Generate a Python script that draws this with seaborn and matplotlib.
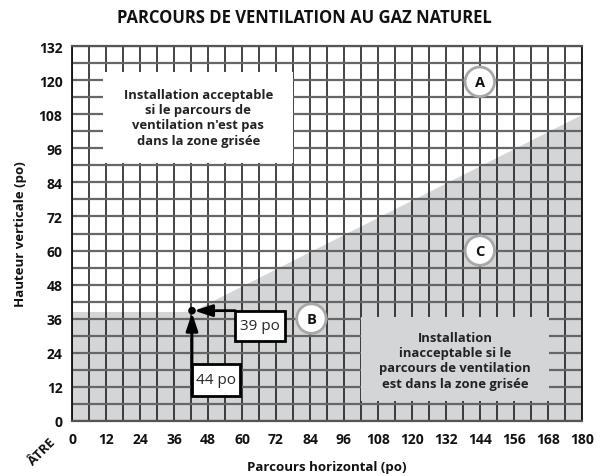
import matplotlib
matplotlib.use("Agg")
import matplotlib.pyplot as plt
from matplotlib.patches import Rectangle, Circle
from matplotlib.ticker import MultipleLocator
import seaborn as sns
import pandas as pd

# boundary of the shaded (unacceptable) zone
boundary_x = [0, 42, 180]
boundary_y = [38.5, 38.5, 108]

# example point and its dimensions
point_x = [42.3]
point_y = [38.8]
label_horizontal = "44 po"
label_vertical = "39 po"

x_ticks = list(range(0, 181, 12))
y_ticks = list(range(0, 133, 12))

zones = ["A", "B", "C"]
zone_x = [144, 84.5, 144]
zone_y = [119.5, 36, 60]

title = "PARCOURS DE VENTILATION AU GAZ NATUREL"
text_ok = "Installation acceptable\nsi le parcours de\nventilation n'est pas\ndans la zone grisée"
text_bad = "Installation\ninacceptable si le\nparcours de ventilation\nest dans la zone grisée"

sns.set_theme(style="white")
plt.rcParams["font.family"] = ["Open Sans", "DejaVu Sans"]

fig = plt.figure(figsize=(6.08, 4.77), dpi=100)
ax = fig.add_axes([0.1189, 0.1159, 0.8378, 0.7849])

shade = "#d3d5d7"
df = pd.DataFrame({"x": boundary_x, "y": boundary_y})
ax.fill_between(df["x"], 0, df["y"], color=shade, lw=0, zorder=0.2)

ax.set_xlim(0, 180)
ax.set_ylim(0, 132)
ax.set_xticks(x_ticks)
ax.set_yticks(y_ticks)
ax.xaxis.set_minor_locator(MultipleLocator(6))
ax.yaxis.set_minor_locator(MultipleLocator(6))
ax.set_axisbelow(True)
ax.grid(True, which="both", axis="x", color="#111111", lw=1.1)
ax.grid(True, which="both", axis="y", color="#666666", lw=1.6)
ax.tick_params(which="both", length=0)
ax.tick_params(axis="x", pad=8, labelsize=10)
ax.tick_params(axis="y", pad=7, labelsize=10)
for lab in ax.get_xticklabels() + ax.get_yticklabels():
    lab.set_fontweight("bold")
    lab.set_color("#111111")

for s in ["left", "right"]:
    ax.spines[s].set_color("#111111")
    ax.spines[s].set_linewidth(1.3)
for s in ["top", "bottom"]:
    ax.spines[s].set_color("#555555")
    ax.spines[s].set_linewidth(1.6)

# text boxes hiding the grid
ax.add_patch(Rectangle((11, 91), 67, 32, facecolor="white", edgecolor="none", zorder=2))
ax.text(44.5, 107, text_ok, ha="center", va="center", fontsize=9.4, fontweight="bold",
        linespacing=1.22, color="#222222", zorder=3)
ax.add_patch(Rectangle((102, 7), 66.5, 29.5, facecolor=shade, edgecolor="none", zorder=2))
ax.text(135.2, 21.3, text_bad, ha="center", va="center", fontsize=9.4, fontweight="bold",
        linespacing=1.22, color="#222222", zorder=3)

# zone markers
for name, zx, zy in zip(zones, zone_x, zone_y):
    ax.add_patch(Circle((zx, zy), 5.2, facecolor="white", edgecolor="#a8a8a8", lw=2, zorder=4))
    ax.text(zx, zy, name, ha="center", va="center", fontsize=10.5, fontweight="bold",
            color="#111111", zorder=5)

# dimension arrows
px, py = point_x[0], point_y[0]
ax.annotate("", xy=(px, py - 0.8), xytext=(px, 8.8),
            arrowprops=dict(arrowstyle="-|>,head_length=0.9,head_width=0.3", color="black",
                            lw=2, shrinkA=0, shrinkB=0), zorder=5)
ax.annotate("", xy=(px + 0.8, py), xytext=(57.6, py),
            arrowprops=dict(arrowstyle="-|>,head_length=0.9,head_width=0.3", color="black",
                            lw=2, shrinkA=0, shrinkB=0), zorder=5)
sns.scatterplot(x=point_x, y=point_y, color="black", s=30, edgecolor="none", zorder=6, ax=ax)

ax.add_patch(Rectangle((42.3, 8.8), 17, 11.3, facecolor="white", edgecolor="black", lw=2, zorder=5))
ax.text(50.8, 14.4, label_horizontal, ha="center", va="center", fontsize=11, zorder=6)
ax.add_patch(Rectangle((57.6, 28), 17.7, 10.8, facecolor="white", edgecolor="black", lw=2, zorder=5))
ax.text(66.4, 33.4, label_vertical, ha="center", va="center", fontsize=11, zorder=6)

ax.set_xlabel("Parcours horizontal (po)", fontsize=9.5, fontweight="bold", color="#111111",
              va="center")
ax.set_ylabel("Hauteur verticale (po)", fontsize=9.5, fontweight="bold", color="#111111",
              va="center")
ax.xaxis.set_label_coords(0.5, -0.121)
ax.yaxis.set_label_coords(-0.1025, 0.5)
fig.text(0.5, 0.962, title, ha="center", va="center", fontsize=12, fontweight="bold", color="#111111")
fig.text(0.0686, 0.053, "ÂTRE", rotation=45, ha="center", va="center", fontsize=9.5,
         fontweight="bold", color="#111111")

fig.savefig("out.png", dpi=100)
